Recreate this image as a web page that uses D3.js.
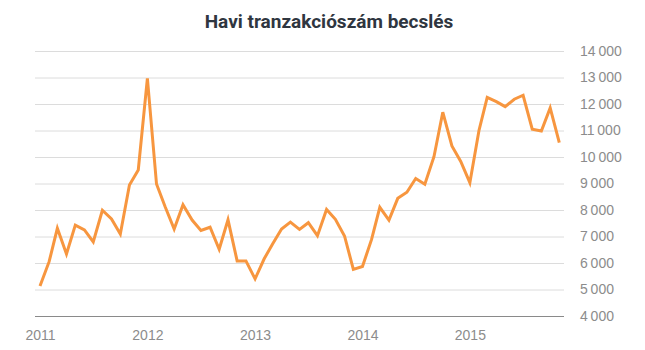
<!DOCTYPE html>
<html>
<head>
<meta charset="utf-8">
<script src="https://cdn.jsdelivr.net/npm/d3@7"></script>
<style>
  body { margin: 0; background: #fff; }
  svg { display: block; font-family: Roboto, "Open Sans", sans-serif; }
</style>
</head>
<body>
<div id="chart"></div>
<script>
// monthly estimates, Jan 2011 - Nov 2015
const startMonth = "2011-01"
const values = [
  5130, 6050, 7310, 6340, 7430, 7250, 6800, 7990, 7660, 7090, 8940, 9510,
  12970, 8980, 8130, 7280, 8200, 7620, 7230, 7350, 6520, 7630, 6080, 6080,
  5400, 6160, 6710, 7280, 7540, 7270, 7520, 7030, 8020, 7650, 7020, 5760,
  5870, 6890, 8100, 7620, 8440, 8670, 9190, 8970, 10010, 11690, 10420, 9830,
  9030, 11000, 12250, 12090, 11900, 12180, 12330, 11050, 10980, 11850, 10540
]
const yTicks = [4000, 5000, 6000, 7000, 8000, 9000, 10000, 11000, 12000, 13000, 14000]
const xTicks = ["2011", "2012", "2013", "2014", "2015"]
const title = "Havi tranzakciószám becslés"

const width = 645, height = 350

const parseMonth = d3.timeParse("%Y-%m")
const start = parseMonth(startMonth)
const data = values.map((v, i) => ({ date: d3.timeMonth.offset(start, i), value: v }))

const svg = d3.select("#chart").append("svg")
  .attr("width", width)
  .attr("height", height)

const x = d3.scaleTime()
  .domain(d3.extent(data, d => d.date))
  .range([40, 559.3])
const y = d3.scaleLinear()
  .domain([4000, 14000])
  .range([316, 51])

const fmt = d3.formatLocale({ decimal: ",", thousands: "\u2009", grouping: [3], currency: ["", ""] }).format(",d")

// title
svg.append("text")
  .attr("x", 329)
  .attr("y", 28)
  .attr("text-anchor", "middle")
  .attr("font-size", 19)
  .attr("font-weight", "bold")
  .attr("fill", "#2f3640")
  .text(title)

// gridlines + right labels
const yAxis = d3.axisRight(y)
  .tickValues(yTicks)
  .tickSize(-(564 - 35))
  .tickPadding(16)
  .tickFormat(fmt)

const gy = svg.append("g")
  .attr("transform", "translate(564,0)")
  .call(yAxis)
gy.select(".domain").remove()
gy.selectAll(".tick line").attr("stroke", "#dcdcdc")
gy.selectAll(".tick text")
  .attr("fill", "#8c8c8c")
  .attr("font-size", 14)
gy.selectAll(".tick")
  .filter(d => d === 4000)
  .select("line").attr("stroke", "#8a8a8a")

// year labels
const xAxis = d3.axisBottom(x)
  .tickValues(xTicks.map(t => d3.timeParse("%Y")(t)))
  .tickSize(0)
  .tickPadding(14)
  .tickFormat(d3.timeFormat("%Y"))

const gx = svg.append("g")
  .attr("transform", "translate(0,316)")
  .call(xAxis)
gx.select(".domain").remove()
gx.selectAll(".tick text")
  .attr("fill", "#8c8c8c")
  .attr("font-size", 14)

// line
svg.append("path")
  .datum(data)
  .attr("fill", "none")
  .attr("stroke", "#f7963f")
  .attr("stroke-width", 3)
  .attr("stroke-linejoin", "miter")
  .attr("d", d3.line()
    .x(d => x(d.date))
    .y(d => y(d.value))
  )
</script>
</body>
</html>
